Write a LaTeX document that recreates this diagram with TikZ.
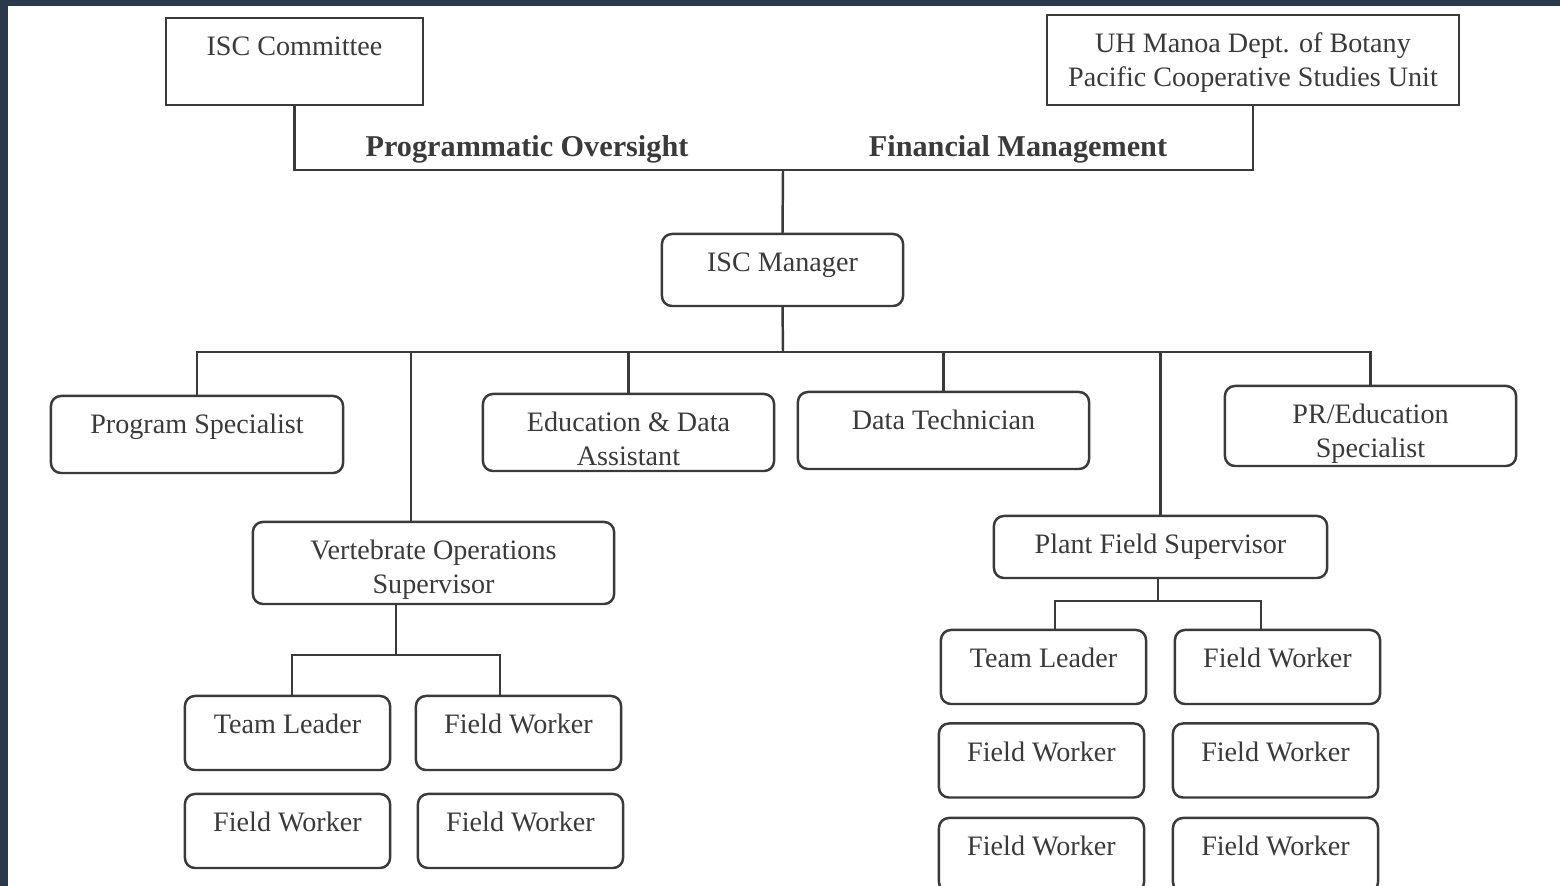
\documentclass[tikz,border=0pt]{standalone}
\usepackage{fontspec}
\setmainfont{Liberation Serif}
\definecolor{frame}{HTML}{2B3A4A}
\definecolor{ink}{HTML}{3A3A3A}
\begin{document}
\begin{tikzpicture}[x=0.01cm,y=-0.01cm,line width=0.7pt,color=ink,
    font=\fontsize{8}{9.4}\selectfont,
    box/.style={draw,inner sep=0pt,outer sep=0pt,align=center,text height=3.8mm},
    twoline/.style={text height=7.1mm},
    rbox/.style={box,rounded corners=1mm},
    worker/.style={rbox,minimum width=2.05cm,text depth=3.6mm},
    lbl/.style={font=\fontsize{8.6}{10}\selectfont\bfseries}]
    \useasboundingbox (0,0) rectangle (1560,886);
    \fill[frame] (0,0) rectangle (1560,886);
    \fill[white] (8,6) rectangle (1560,886);

    % top level
    \node[box, minimum width=2.57cm, text depth=4.9mm] (comm) at (294.5,61.5) {ISC Committee};
    \node[box, twoline, minimum width=4.12cm, text depth=1.9mm] (uh) at (1253,60) {UH Manoa Dept. of Botany\\Pacific Cooperative Studies Unit};
    \node[lbl] (oversight) at (527,149) {Programmatic Oversight};
    \node[lbl] (finance) at (1018,149) {Financial Management};
    \node[rbox, minimum width=2.41cm, text depth=3.4mm] (mgr) at (782.5,270) {ISC Manager};

    % staff
    \node[rbox, minimum width=2.92cm, text depth=3.9mm] (progspec) at (197,434.5) {Program Specialist};
    \node[rbox, twoline, minimum width=2.91cm, text depth=0.6mm] (edu) at (628.5,432.5) {Education \& Data\\Assistant};
    \node[rbox, minimum width=2.91cm, text depth=3.9mm] (datatech) at (943.5,430.5) {Data Technician};
    \node[rbox, twoline, minimum width=2.91cm, text depth=0.9mm] (pred) at (1370.5,426) {PR/Education\\Specialist};
    \node[rbox, twoline, minimum width=3.61cm, text depth=1.1mm] (vert) at (433.5,563) {Vertebrate Operations\\Supervisor};
    \node[rbox, minimum width=3.33cm, text depth=2.4mm] (plant) at (1160.5,547) {Plant Field Supervisor};

    % crews
    \foreach \n/\x/\y/\t in {v11/287.5/733/Team Leader, v12/518.5/733/Field Worker,
        v21/287.5/831/Field Worker, v22/520.5/831/Field Worker}
        \node[worker] (\n) at (\x,\y) {\t};
    \foreach \n/\x/\y/\t in {p11/1043.5/667/Team Leader, p12/1277.5/667/Field Worker,
        p21/1041.5/760.5/Field Worker, p22/1275.5/760.5/Field Worker,
        p31/1041.5/855/Field Worker, p32/1275.5/855/Field Worker}
        \node[worker] (\n) at (\x,\y) {\t};

    % connectors
    \coordinate (top) at (783,170);
    \draw (comm.south) |- (top) -| (uh.south);
    \draw (top) -- (mgr.north);
    \coordinate (bus) at (783,352);
    \draw (mgr.south) -- (bus);
    \draw (progspec.north) |- (bus) -| (pred.north);
    \foreach \n in {edu,datatech,plant}
        \draw (bus) -| (\n.north);
    \coordinate (vtap) at (411,352);
    \draw (vtap) -- (vtap |- vert.north);

    \coordinate (vfork) at (396,655);
    \coordinate (vlft) at (292,655);
    \coordinate (vrgt) at (500,655);
    \draw (vfork |- vert.south) -- (vfork);
    \draw (vlft |- v11.north) -- (vlft) -- (vrgt) -- (vrgt |- v12.north);

    \coordinate (pfork) at (1158,601);
    \coordinate (plft) at (1055,601);
    \coordinate (prgt) at (1261,601);
    \draw (pfork |- plant.south) -- (pfork);
    \draw (plft |- p11.north) -- (plft) -- (prgt) -- (prgt |- p12.north);
\end{tikzpicture}
\end{document}
